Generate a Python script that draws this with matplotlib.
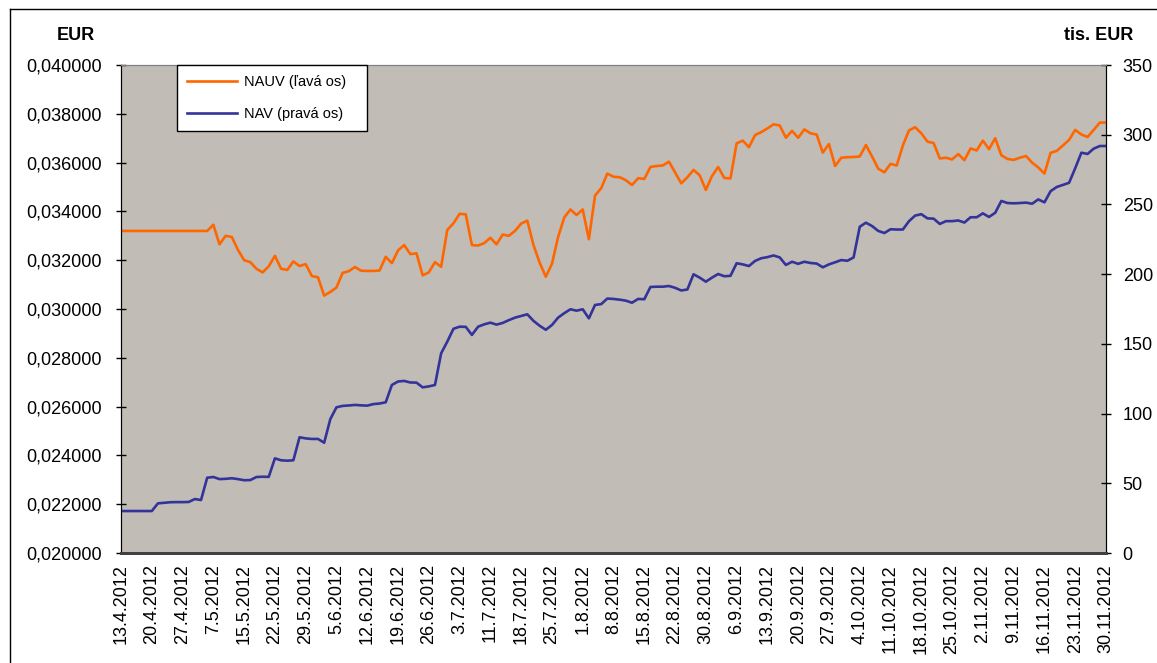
import matplotlib
matplotlib.use("Agg")
import matplotlib.pyplot as plt
from matplotlib.lines import Line2D
from matplotlib.ticker import FuncFormatter
import numpy as np

plt.rcParams['font.family'] = ['Liberation Sans', 'DejaVu Sans']

# tick labels on the category axis (one every 5 trading days)
date_labels = ["13.4.2012", "20.4.2012", "27.4.2012", "7.5.2012", "15.5.2012",
               "22.5.2012", "29.5.2012", "5.6.2012", "12.6.2012", "19.6.2012",
               "26.6.2012", "3.7.2012", "11.7.2012", "18.7.2012", "25.7.2012",
               "1.8.2012", "8.8.2012", "15.8.2012", "22.8.2012", "30.8.2012",
               "6.9.2012", "13.9.2012", "20.9.2012", "27.9.2012", "4.10.2012",
               "11.10.2012", "18.10.2012", "25.10.2012", "2.11.2012", "9.11.2012",
               "16.11.2012", "23.11.2012", "30.11.2012"]

# NAUV in EUR (left axis), one value per trading day
nauv = [0.03320] * 15 + [
    0.03345, 0.03265, 0.03300, 0.03295, 0.03242, 0.03200, 0.03192, 0.03165, 0.03150, 0.03175,
    0.03218, 0.03165, 0.03160, 0.03195, 0.03176, 0.03184, 0.03135, 0.03130, 0.03055, 0.03070,
    0.03088, 0.03148, 0.03155, 0.03172, 0.03157, 0.03156, 0.03156, 0.03158, 0.03214, 0.03188,
    0.03240, 0.03262, 0.03225, 0.03228, 0.03138, 0.03150, 0.03192, 0.03173, 0.03324, 0.03351,
    0.03390, 0.03388, 0.03262, 0.03260, 0.03270, 0.03292, 0.03265, 0.03305, 0.03300, 0.03320,
    0.03350, 0.03362, 0.03262, 0.03190, 0.03132, 0.03185, 0.03295, 0.03375, 0.03408, 0.03385,
    0.03408, 0.03286, 0.03465, 0.03495, 0.03555, 0.03542, 0.03540, 0.03528, 0.03508, 0.03536,
    0.03533, 0.03582, 0.03586, 0.03588, 0.03604, 0.03560, 0.03515, 0.03540, 0.03570, 0.03548,
    0.03488, 0.03545, 0.03582, 0.03537, 0.03535, 0.03679, 0.03690, 0.03663, 0.03713, 0.03725,
    0.03740, 0.03757, 0.03752, 0.03702, 0.03730, 0.03702, 0.03736, 0.03720, 0.03715, 0.03641,
    0.03676, 0.03586, 0.03620, 0.03622, 0.03623, 0.03625, 0.03672, 0.03625, 0.03575, 0.03560,
    0.03595, 0.03588, 0.03670, 0.03732, 0.03745, 0.03720, 0.03686, 0.03680, 0.03617, 0.03620,
    0.03613, 0.03635, 0.03610, 0.03658, 0.03650, 0.03690, 0.03655, 0.03700, 0.03630, 0.03615,
    0.03611, 0.03620, 0.03627, 0.03600, 0.03580, 0.03555, 0.03640, 0.03648, 0.03670, 0.03693,
    0.03734, 0.03715, 0.03705, 0.03734, 0.03764, 0.03764]

# NAV in thousand EUR (right axis)
nav = [30.1] * 6 + [
    35.6, 36.0, 36.4, 36.5, 36.5, 36.6, 38.7, 38.0, 54.0,
    54.5, 53.0, 53.2, 53.6, 53.0, 52.2, 52.3, 54.5, 54.7, 54.6,
    67.9, 66.5, 66.2, 66.5, 83.0, 82.2, 81.8, 81.8, 79.1, 96.0,
    104.5, 105.5, 105.8, 106.2, 105.9, 105.7, 106.8, 107.2, 108.1, 120.5,
    123.0, 123.4, 122.3, 122.2, 118.8, 119.5, 120.5, 143.2, 151.6, 160.8,
    162.3, 162.2, 156.4, 162.3, 164.0, 165.2, 163.8, 165.0, 167.0, 168.8,
    170.0, 171.2, 166.5, 163.0, 160.1, 163.5, 168.8, 172.0, 174.8, 173.8,
    174.8, 168.3, 177.9, 178.5, 182.5, 182.2, 181.7, 181.0, 179.5, 182.2,
    182.0, 190.8, 191.0, 191.0, 191.5, 190.2, 188.3, 189.0, 199.9, 197.5,
    194.6, 197.5, 200.1, 198.5, 198.8, 207.8, 207.0, 205.8, 209.5, 211.4,
    212.2, 213.4, 212.0, 206.6, 208.9, 207.4, 208.9, 208.0, 207.6, 204.9,
    207.0, 208.5, 210.1, 209.6, 212.0, 234.0, 236.9, 234.5, 231.0, 229.5,
    232.2, 232.0, 232.0, 238.0, 242.0, 243.0, 240.0, 239.8, 236.0, 238.0,
    238.0, 238.5, 237.0, 240.8, 240.8, 243.6, 241.0, 244.0, 252.5, 251.0,
    250.8, 251.0, 251.3, 250.5, 253.6, 251.5, 259.5, 262.5, 264.0, 265.5,
    276.0, 287.1, 286.2, 290.0, 291.9, 291.9]

orange = "#FF6600"
blue = "#333399"

x = np.arange(len(nauv))

fig = plt.figure(figsize=(11.57, 6.63), dpi=100)
ax = fig.add_axes([121 / 1157, 1 - 553 / 663, 985 / 1157, 488 / 663])
ax.set_facecolor("#C1BDB6")
ax2 = ax.twinx()

ax.plot(x, nauv, color=orange, lw=1.9, solid_joinstyle="round")
ax2.plot(x, nav, color=blue, lw=1.9, solid_joinstyle="round")

ax.set_xlim(0, len(nauv) - 1)
ax.set_ylim(0.020, 0.040)
ax2.set_ylim(0, 350)

ax.set_yticks(np.arange(0.020, 0.0401, 0.002))
ax.yaxis.set_major_formatter(FuncFormatter(lambda v, p: f"{v:.6f}".replace(".", ",")))
ax2.set_yticks(np.arange(0, 351, 50))

ax.set_xticks(x[::5])
ax.set_xticklabels(date_labels, rotation=90, va="top", ha="center")

ax.tick_params(axis="y", direction="inout", length=7, width=1, pad=10.5, labelsize=13)
ax2.tick_params(axis="y", direction="inout", length=7, width=1, pad=8.5, labelsize=13)
ax.tick_params(axis="x", length=0, pad=8, labelsize=13)

for a in (ax, ax2):
    a.spines["top"].set_color("#808080")
    a.spines["bottom"].set_color("#404040")
    a.spines["bottom"].set_linewidth(2)
    a.spines["left"].set_color("black")
    a.spines["right"].set_color("black")

fig.text(76 / 1157, 1 - 35 / 663, "EUR", ha="center", va="center",
         fontsize=13, fontweight="bold")
fig.text(1099 / 1157, 1 - 35 / 663, "tis. EUR", ha="center", va="center",
         fontsize=13, fontweight="bold")

handles = [Line2D([], [], color=orange, lw=1.9), Line2D([], [], color=blue, lw=1.9)]
leg = ax2.legend(handles, ["NAUV (ľavá os)", "NAV (pravá os)"],
                 loc="upper left", mode="expand",
                 bbox_to_anchor=((177 - 121) / 985, 0.0, 190 / 985, 1.0),
                 borderaxespad=0, fontsize=10.5, frameon=True, fancybox=False,
                 edgecolor="black", framealpha=1, handlelength=3.4,
                 handletextpad=0.5, labelspacing=1.2, borderpad=0.7)
leg.get_frame().set_linewidth(1)

# outer chart border
fig.add_artist(Line2D([10 / 1157, 10 / 1157], [0, 1 - 9 / 663], color="black", lw=1))
fig.add_artist(Line2D([10 / 1157, 1], [1 - 9 / 663, 1 - 9 / 663], color="black", lw=1))

fig.savefig("out.png", dpi=100)
